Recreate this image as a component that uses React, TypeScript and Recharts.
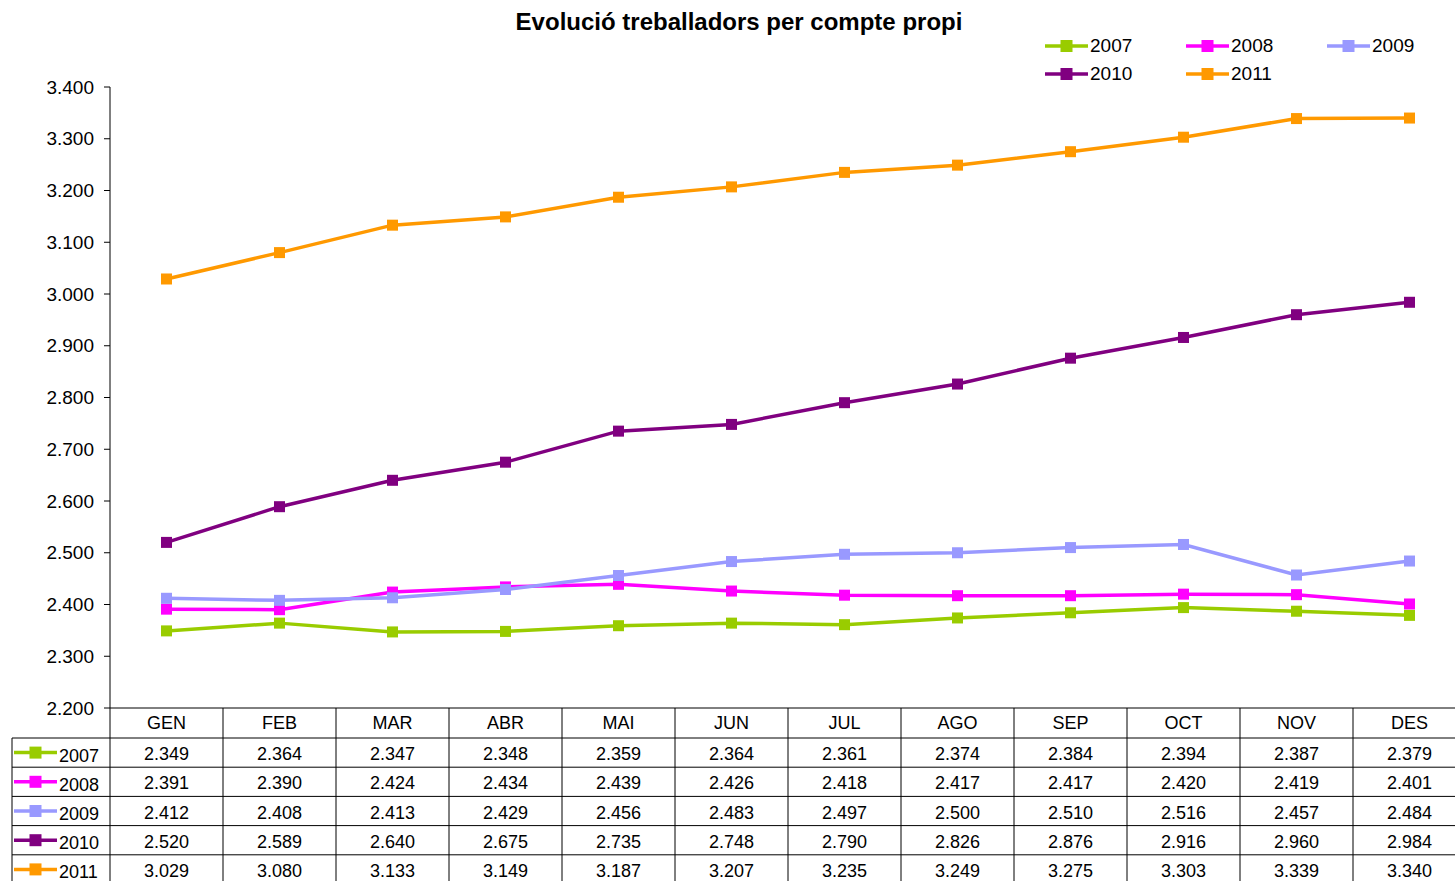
import React from 'react';
import { LineChart, Line, XAxis, YAxis } from 'recharts';

const months = ['GEN', 'FEB', 'MAR', 'ABR', 'MAI', 'JUN', 'JUL', 'AGO', 'SEP', 'OCT', 'NOV', 'DES'];
const years = ['2007', '2008', '2009', '2010', '2011'];
const s2007 = [2349, 2364, 2347, 2348, 2359, 2364, 2361, 2374, 2384, 2394, 2387, 2379];
const s2008 = [2391, 2390, 2424, 2434, 2439, 2426, 2418, 2417, 2417, 2420, 2419, 2401];
const s2009 = [2412, 2408, 2413, 2429, 2456, 2483, 2497, 2500, 2510, 2516, 2457, 2484];
const s2010 = [2520, 2589, 2640, 2675, 2735, 2748, 2790, 2826, 2876, 2916, 2960, 2984];
const s2011 = [3029, 3080, 3133, 3149, 3187, 3207, 3235, 3249, 3275, 3303, 3339, 3340];
const yTicks = [2200, 2300, 2400, 2500, 2600, 2700, 2800, 2900, 3000, 3100, 3200, 3300, 3400];

const seriesValues = [s2007, s2008, s2009, s2010, s2011];
const colors = ['#99CC00', '#FF00FF', '#9999FF', '#800080', '#FF9900'];

const data = months.map((m, i) => {
  const row: any = { m };
  years.forEach((y, k) => { row[y] = seriesValues[k][i]; });
  return row;
});

const fmt = (v: number) => `${Math.floor(v / 1000)}.${String(v % 1000).padStart(3, '0')}`;

const W = 1480;
const H = 900;
const XH = 30;
const M = { top: 87, right: 14, bottom: H - 708 - XH, left: 10 };
const YW = 100;
const PLOT_L = M.left + YW;
const BAND = (W - M.right - PLOT_L) / months.length;
const ROW_H = 29.2;
const HEADER_H = 30;
const FONT = '"Liberation Sans", Arial, sans-serif';
const LINE = '#000';

const Key = ({ x, y, color }: { x: number; y: number; color: string }) => (
  <g>
    <line x1={x} x2={x + 43} y1={y} y2={y} stroke={color} strokeWidth={3.5} />
    <rect x={x + 15.5} y={y - 6} width={12} height={12} fill={color} />
  </g>
);

const TableTick = (props: any) => {
  const { x, y, payload, index } = props;
  const cx = x;
  const top = y;
  const rowsTop = top + HEADER_H;
  const bottom = rowsTop + ROW_H * years.length + 10;
  const left = cx - BAND / 2;
  const right = cx + BAND / 2;
  const i = index as number;
  return (
    <g fontFamily={FONT}>
      <line x1={left} x2={left} y1={top} y2={bottom} stroke={LINE} strokeWidth={1} />
      {i === months.length - 1 && (
        <line x1={right} x2={right} y1={top} y2={bottom} stroke={LINE} strokeWidth={1} />
      )}
      <text x={cx} y={top + HEADER_H / 2} textAnchor="middle" dominantBaseline="central" fontSize={18} fill="#000">
        {payload.value}
      </text>
      {years.map((yr, r) => (
        <g key={yr}>
          <line x1={left} x2={right} y1={rowsTop + ROW_H * r} y2={rowsTop + ROW_H * r} stroke={LINE} strokeWidth={1} />
          <text x={cx} y={rowsTop + ROW_H * r + ROW_H / 2 + 1.5} textAnchor="middle" dominantBaseline="central" fontSize={18} fill="#000">
            {fmt(seriesValues[r][i])}
          </text>
        </g>
      ))}
      {i === 0 && (
        <g>
          <line x1={12} x2={12} y1={rowsTop} y2={bottom} stroke={LINE} strokeWidth={1} />
          {years.map((yr, r) => (
            <g key={yr}>
              <line x1={12} x2={left} y1={rowsTop + ROW_H * r} y2={rowsTop + ROW_H * r} stroke={LINE} strokeWidth={1} />
              <Key x={14} y={rowsTop + ROW_H * r + ROW_H / 2} color={colors[r]} />
              <text x={59} y={rowsTop + ROW_H * r + ROW_H / 2 + 3} dominantBaseline="central" fontSize={18} fill="#000">
                {yr}
              </text>
            </g>
          ))}
        </g>
      )}
    </g>
  );
};

const makeDot = (color: string) => (p: any) => (
  <rect key={`d-${p.index}`} x={p.cx - 5.5} y={p.cy - 5.5} width={11} height={11} fill={color} />
);

export default function App() {
  return (
    <div style={{ position: 'fixed', left: 0, top: 0, width: 1455, height: 881, overflow: 'hidden', background: '#fff', fontFamily: FONT }}>
      <div style={{ position: 'absolute', left: 0, top: 6, width: 1478, textAlign: 'center', fontSize: 24, fontWeight: 'bold', color: '#000', lineHeight: '32px' }}>
        Evolució treballadors per compte propi
      </div>
      <div style={{ position: 'absolute', left: 1045, top: 32, width: 430, display: 'flex', flexWrap: 'wrap' }}>
        {years.map((yr, k) => (
          <div key={yr} style={{ width: 141, height: 28, display: 'flex', alignItems: 'center' }}>
            <svg width={45} height={28} style={{ display: 'block' }}>
              <Key x={0} y={14} color={colors[k]} />
            </svg>
            <span style={{ fontSize: 19, color: '#000', marginLeft: 0 }}>{yr}</span>
          </div>
        ))}
      </div>
      <div style={{ position: 'absolute', left: 0, top: 0 }}>
        <LineChart width={W} height={H} data={data} margin={M}>
          <YAxis
            width={YW}
            domain={[2200, 3400]}
            ticks={yTicks}
            tickFormatter={fmt}
            axisLine={{ stroke: LINE, strokeWidth: 1 }}
            tickLine={{ stroke: LINE, strokeWidth: 1 }}
            tickSize={6}
            tickMargin={10}
            tick={{ fontSize: 19, fill: '#000', fontFamily: FONT }}
            interval={0}
          />
          <XAxis
            dataKey="m"
            scale="band"
            height={XH}
            axisLine={{ stroke: LINE, strokeWidth: 1 }}
            tickLine={false}
            tickSize={0}
            tickMargin={0}
            tick={<TableTick />}
            interval={0}
          />
          {years.map((yr, k) => (
            <Line
              key={yr}
              dataKey={yr}
              type="linear"
              stroke={colors[k]}
              strokeWidth={3.5}
              dot={makeDot(colors[k])}
              activeDot={false}
              isAnimationActive={false}
            />
          ))}
        </LineChart>
      </div>
    </div>
  );
}
